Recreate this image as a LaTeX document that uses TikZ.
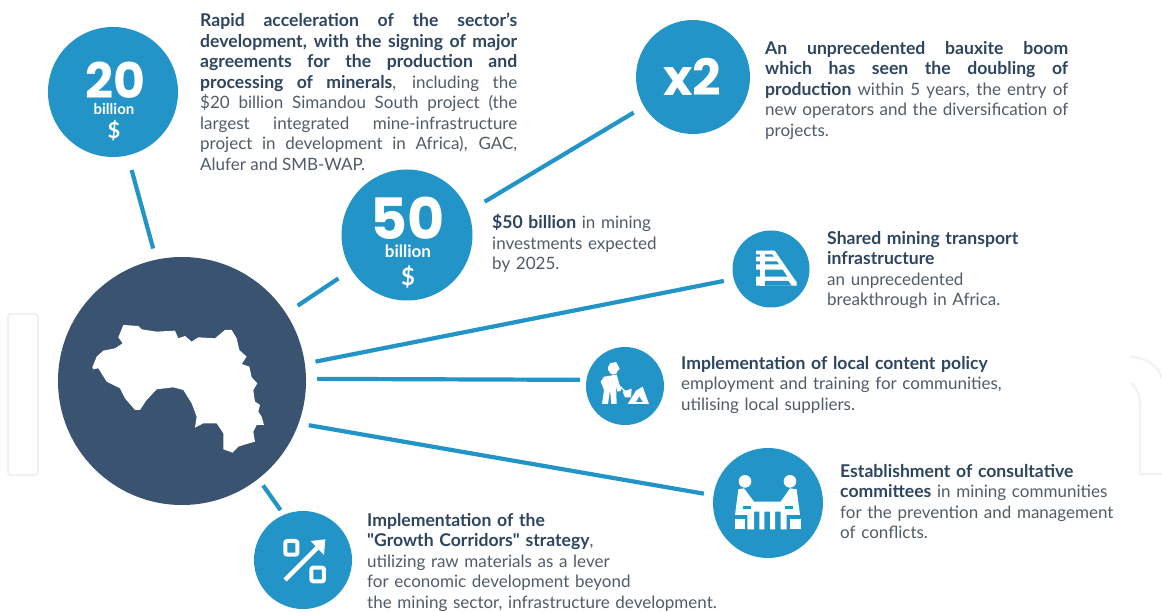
\documentclass[tikz,border=0pt]{standalone}
\usepackage{fontspec}
\setmainfont{Lato}
\newfontfamily\numfont{Poppins}
\newfontfamily\plainlato{Lato}
\definecolor{blueC}{HTML}{2294C8}
\definecolor{navy}{HTML}{3A5370}
\definecolor{bodyT}{HTML}{505C68}
\definecolor{headT}{HTML}{2E4560}
\definecolor{markG}{HTML}{F1F1F1}
\tikzset{
  x=1pt,y=-1pt,
  disc/.style={circle,fill=blueC,inner sep=0pt,text=white,align=center},
  hubdisc/.style={circle,fill=navy,inner sep=0pt},
  link/.style={draw=blueC,line width=4.2pt},
  para/.style={anchor=north west,inner sep=0pt,text=bodyT,font=\fontsize{17}{20.5}\selectfont,align=justify},
  paral/.style={anchor=north west,inner sep=0pt,text=bodyT,font=\fontsize{17}{20.5}\selectfont,align=left},
  numtext/.style={text=white,inner sep=0pt},
}
\newcommand{\hd}[1]{{\fontsize{17.6}{20.5}\selectfont\bfseries\color{headT}#1}}
\begin{document}
\begin{tikzpicture}
\useasboundingbox (0,0) rectangle (1162,612);
\fill[white] (0,0) rectangle (1162,612);
% faint watermark
\draw[markG,line width=2pt,rounded corners=3pt] (8,314) rectangle (38,475);
\draw[markG,line width=2pt] (1130,357) .. controls (1148,358) and (1158,366) .. (1162,378);
\draw[markG,line width=2pt] (1130,383) .. controls (1136,386) and (1140,395) .. (1140,405) -- (1140,474) -- (1162,474);
% discs
\node[hubdisc,minimum size=248pt] (hub) at (182,381) {};
\node[disc,minimum size=130pt] (d20) at (113,92) {};
\node[disc,minimum size=114pt] (dx2) at (693,77) {};
\node[disc,minimum size=131pt] (d50) at (407,235) {};
\node[disc,minimum size=77pt] (drail) at (771,269) {};
\node[disc,minimum size=78pt] (dwork) at (625,386) {};
\node[disc,minimum size=110pt] (dcomm) at (768,503) {};
\node[disc,minimum size=98pt] (dpct) at (303,560) {};
% connectors
\draw[link,shorten <=15pt,shorten >=11.4pt] (d20.283) -- (hub.102.8);
\draw[link,shorten <=15.5pt,shorten >=13.8pt] (d50.212.3) -- (hub.33.5);
\draw[link,shorten <=12pt,shorten >=19pt] (dx2.211.5) -- (d50.21);
\draw[link,shorten <=10pt,shorten >=10.7pt] (drail.195.2) -- (hub.8.8);
\draw[link,shorten <=6.5pt,shorten >=11pt] (dwork.171.3) -- (hub.1.8);
\draw[link,shorten <=9.6pt,shorten >=10.2pt] (dcomm.172.5) -- (hub.340.6);
\draw[link,shorten <=8pt,shorten >=5.6pt] (hub.308.9) -- (dpct.113.7);
% disc captions
\node[numtext,font=\numfont\fontsize{49}{49}\bfseries\selectfont] (t20) at (115,80) {20};
\node[numtext,font=\fontsize{15}{15}\bfseries\selectfont] (t20b) at (114,109) {billion};
\node[numtext,font=\fontsize{22}{22}\bfseries\selectfont] (t20c) at (114,131) {\$};
\node[numtext,font=\numfont\fontsize{50}{50}\bfseries\selectfont] (tx2) at (692,77) {x2};
\node[numtext,font=\numfont\fontsize{57}{57}\bfseries\selectfont] (t50) at (408,218) {50};
\node[numtext,font=\fontsize{17}{17}\bfseries\selectfont] (t50b) at (408,251) {billion};
\node[numtext,font=\fontsize{24}{24}\bfseries\selectfont] (t50c) at (408,277) {\$};
% Guinea outline
\begin{scope}[shift={(40,260)},x=0.3333pt,y=-0.3333pt]
\fill[white] (157,322)--(170,290)--(190,272)--(225,265)--(248,250)--(235,232)--(250,195)--(295,198)--(305,208)--(350,215)--(405,212)--(415,235)--(435,228)--(455,245)--(475,232)--(525,235)--(555,210)--(575,210)--(590,235)--(598,270)--(620,290)--(605,312)--(628,320)--(635,352)--(652,370)--(640,390)--(645,425)--(660,435)--(655,455)--(665,470)--(672,495)--(650,495)--(640,515)--(645,545)--(610,555)--(595,560)--(578,578)--(550,568)--(550,520)--(530,490)--(490,490)--(465,503)--(470,470)--(455,430)--(430,390)--(400,382)--(350,388)--(320,420)--(300,450)--(285,450)--(255,415)--(240,385)--(200,365)--(175,325)--(160,328)--cycle;
\end{scope}
% rail icon
\begin{scope}[shift={(720,220)},x=0.3333pt,y=-0.3333pt]
\fill[white] (108,92)--(160,92)--(168,103)--(108,103)--cycle;
\fill[white] (108,110)--(172,110)--(181,124)--(108,124)--cycle;
\fill[white] (108,133)--(188,133)--(198,149)--(108,149)--cycle;
\fill[white] (108,170)--(214,170)--(232,197)--(108,197)--cycle;
\fill[white] (120,92)--(135,92)--(135,197)--(120,197)--cycle;
\fill[white] (150,92)--(164,92)--(232,190)--(216,190)--cycle;
\fill[blueC] (135,183)--(205,183)--(215,197)--(135,197)--cycle;
\end{scope}
% worker icon
\begin{scope}[shift={(580,340)},x=0.3333pt,y=-0.3333pt]
\fill[white] (100,90) circle[radius=14];
\fill[white] (84,82)--(90,70)--(108,66)--(118,84)--(118,90)--(84,92)--cycle;
\fill[white] (72,110)--(110,104)--(124,152)--(112,155)--(108,136)--(110,192)--(94,192)--(90,150)--(84,192)--(66,192)--(72,150)--(62,125)--cycle;
\draw[white,line width=1.3pt] (110,130)--(140,158);
\fill[white] (128,155)--(155,146)--(153,172)--(135,172)--cycle;
\fill[white] (143,192)--(168,152)--(188,140)--(207,192)--cycle;
\fill[blueC] (168,186)--(178,170)--(188,186)--cycle;
\end{scope}
% committee icon
\begin{scope}[shift={(710,440)},x=0.3333pt,y=-0.3333pt]
\fill[white] (105,124) circle[radius=19];
\fill[white] (240,124) circle[radius=19];
\fill[white] (75,225)--(85,148)--(102,145)--(132,185)--(212,185)--(240,145)--(260,148)--(270,225)--(230,225)--(230,268)--(212,268)--(212,215)--(195,215)--(195,268)--(180,268)--(180,215)--(163,215)--(163,268)--(148,268)--(148,215)--(132,215)--(132,268)--(112,268)--(112,225)--cycle;
\fill[blueC] (98,197)--(122,197)--(122,206)--(98,206)--cycle;
\fill[blueC] (224,197)--(248,197)--(248,206)--(224,206)--cycle;
\fill[white] (76,238)--(105,238)--(105,268)--(76,268)--cycle;
\fill[white] (240,238)--(272,238)--(272,268)--(240,268)--cycle;
\end{scope}
% percent icon
\begin{scope}[shift={(250,505)},x=0.3333pt,y=-0.3333pt]
\draw[white,line width=4pt,rounded corners=2pt] (106,108) rectangle (142,149);
\draw[white,line width=4pt,rounded corners=2pt] (184,188) rectangle (222,229);
\draw[white,line width=4.5pt] (105,225)--(205,125);
\fill[white] (182,108)--(226,103)--(222,150)--cycle;
\end{scope}
% paragraphs
\node[para,text width=317pt] (p1) at (200,13) {\hd{Rapid acceleration of the sector's}\linebreak \hd{development, with the signing of major}\linebreak \hd{agreements for the production and}\linebreak \hd{processing of minerals}, including the\linebreak \$20 billion Simandou South project (the\linebreak largest integrated mine-infrastructure\linebreak project in development in Africa), GAC,\linebreak Alufer and SMB-WAP.};
\node[para,text width=303pt] (p2) at (765,41) {\hd{An unprecedented bauxite boom}\linebreak \hd{which has seen the doubling of}\linebreak \hd{production} within 5 years, the entry of\linebreak new operators and the diversification of\linebreak projects.};
\node[paral,text width=200pt] (p3) at (492,214) {\hd{\$50 billion} in mining\\investments expected\\by 2025.};
\node[paral,text width=260pt] (p4) at (827,231) {\hd{Shared mining transport}\\\hd{infrastructure}\\an unprecedented\\breakthrough in Africa.};
\node[paral,text width=400pt] (p5) at (681,356) {\hd{Implementation of local content policy}\\employment and training for communities,\\utilising local suppliers.};
\node[paral,text width=300pt] (p6) at (840,464) {\hd{Establishment of consultative}\\\hd{committees} in mining communities\\for the prevention and management\\of conflicts.};
\node[paral,text width=400pt] (p7) at (367,513) {\hd{Implementation of the}\\\hd{{\plainlato"}Growth Corridors{\plainlato"} strategy},\\utilizing raw materials as a lever\\for economic development beyond\\the mining sector, infrastructure development.};
\end{tikzpicture}
\end{document}
